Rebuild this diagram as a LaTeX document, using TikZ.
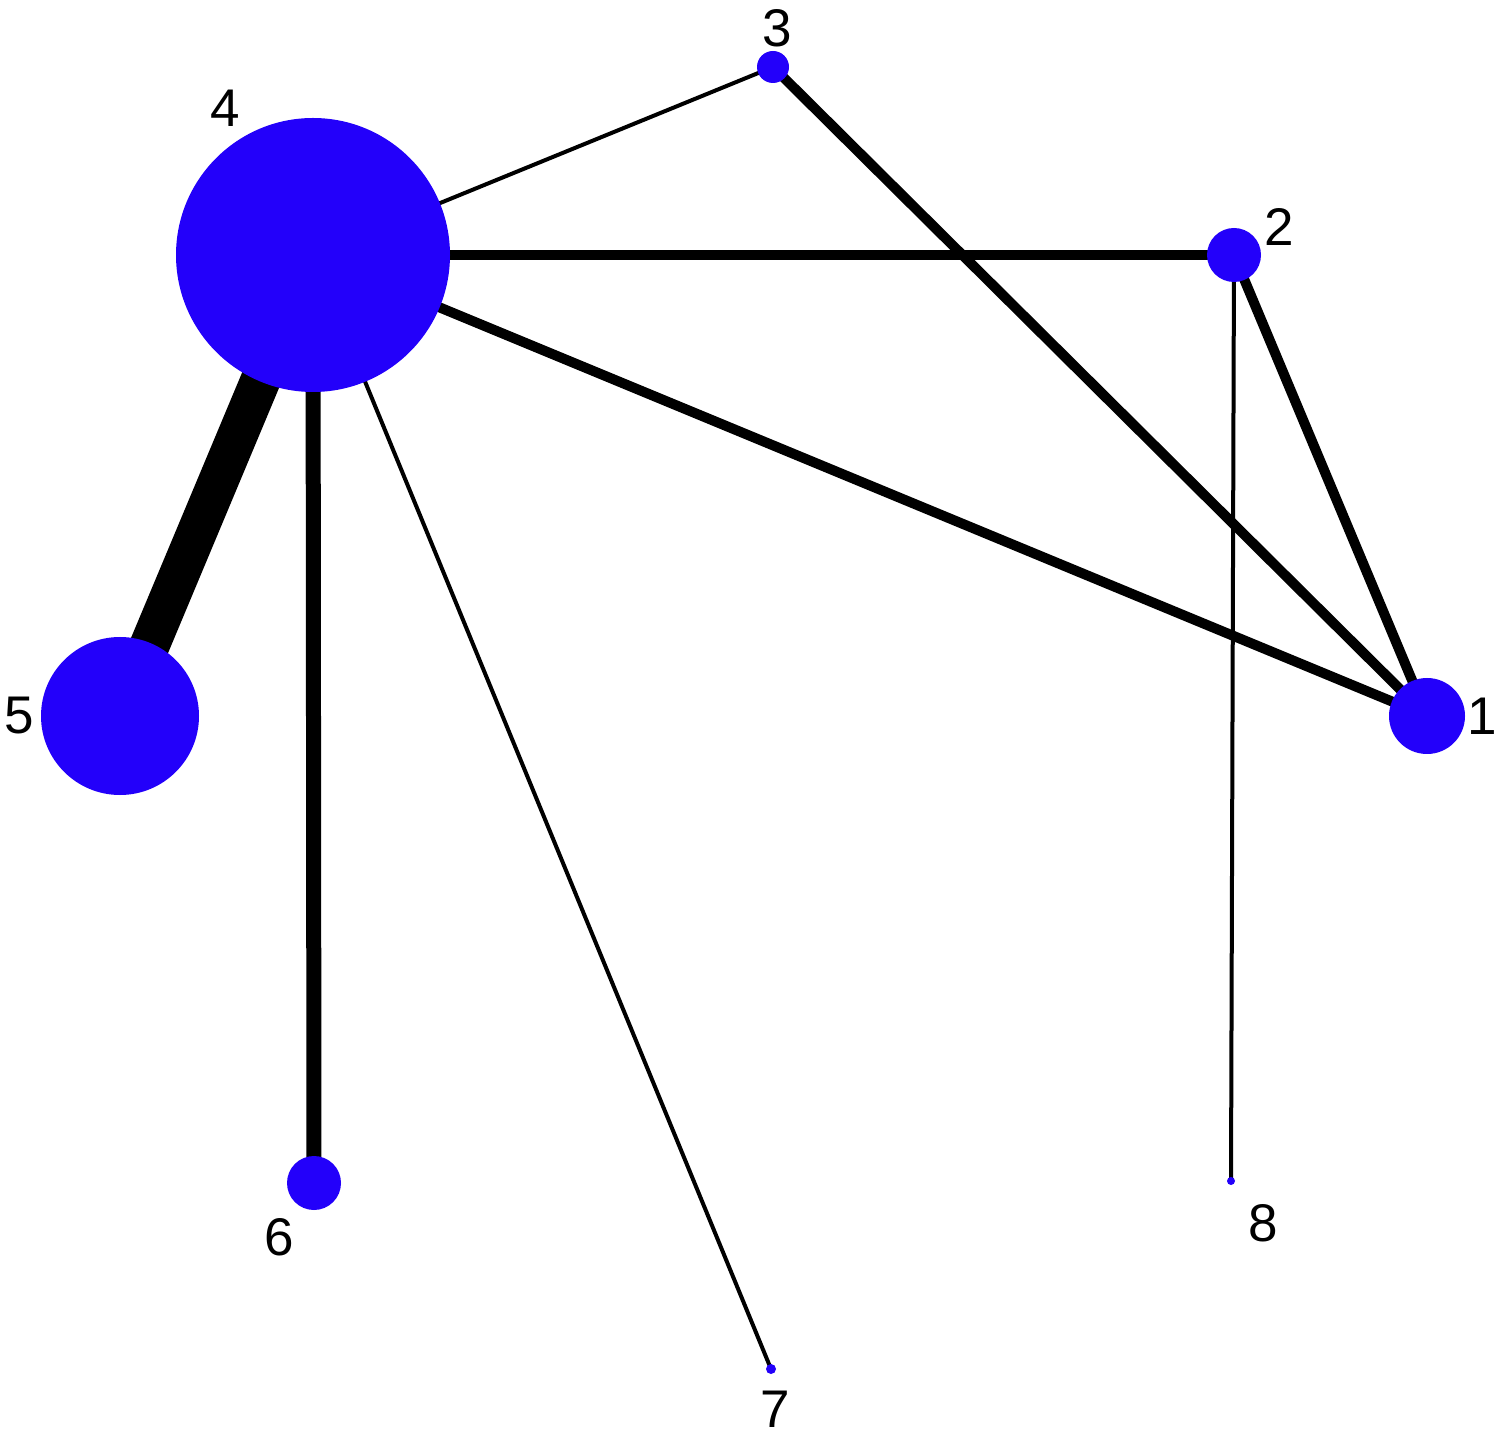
\documentclass[tikz,border=0pt]{standalone}
\usepackage{fontspec}
\setmainfont{Liberation Sans}
\pgfdeclarelayer{edges}
\pgfsetlayers{edges,main}
\definecolor{nodeblue}{RGB}{35,0,250}
\begin{document}
\begin{tikzpicture}[x=0.5pt,y=-0.5pt,
  vtx/.style={circle,fill=nodeblue,draw=none,inner sep=0pt,minimum size=#1},
  lbl/.style={inner sep=0pt,font=\fontsize{26.5pt}{30pt}\selectfont},
  thin edge/.style={line width=2pt},
  mid edge/.style={line width=5pt},
  wide edge/.style={line width=7.5pt},
  huge edge/.style={line width=20pt}]
\useasboundingbox (0,0) rectangle (1500,1438);
% nodes
\node[vtx=137pt] (n4) at (313,255) {};
\node[vtx=79pt]  (n5) at (120,716) {};
\node[vtx=27pt]  (n6) at (314,1183) {};
\node[vtx=5pt]   (n7) at (771,1369) {};
\node[vtx=4pt]   (n8) at (1231,1181) {};
\node[vtx=38pt]  (n1) at (1427,716) {};
\node[vtx=27pt]  (n2) at (1234,255) {};
\node[vtx=16pt]  (n3) at (773,67) {};
% labels
\node[lbl] (l1) at (1482,716) {1};
\node[lbl] (l2) at (1279,227) {2};
\node[lbl] (l3) at (777,28) {3};
\node[lbl] (l4) at (225,108) {4};
\node[lbl] (l5) at (19,716) {5};
\node[lbl] (l6) at (279,1237) {6};
\node[lbl] (l7) at (775,1409) {7};
\node[lbl] (l8) at (1263,1223) {8};
% edges
\begin{pgfonlayer}{edges}
\fill[white] (0,0) rectangle (1500,1438);
\draw[huge edge] (n4.center) -- (n5.center);
\draw[wide edge] (n4.center) -- (n6.center);
\draw[thin edge] (n4.center) -- (n7.center);
\draw[thin edge] (n4.center) -- (n3.center);
\draw[mid edge]  (n4.center) -- (n2.center);
\draw[mid edge]  (n4.center) -- (n1.center);
\draw[mid edge]  (n3.center) -- (n1.center);
\draw[mid edge]  (n2.center) -- (n1.center);
\draw[thin edge] (n2.center) -- (n8.center);
\end{pgfonlayer}
\end{tikzpicture}
\end{document}
